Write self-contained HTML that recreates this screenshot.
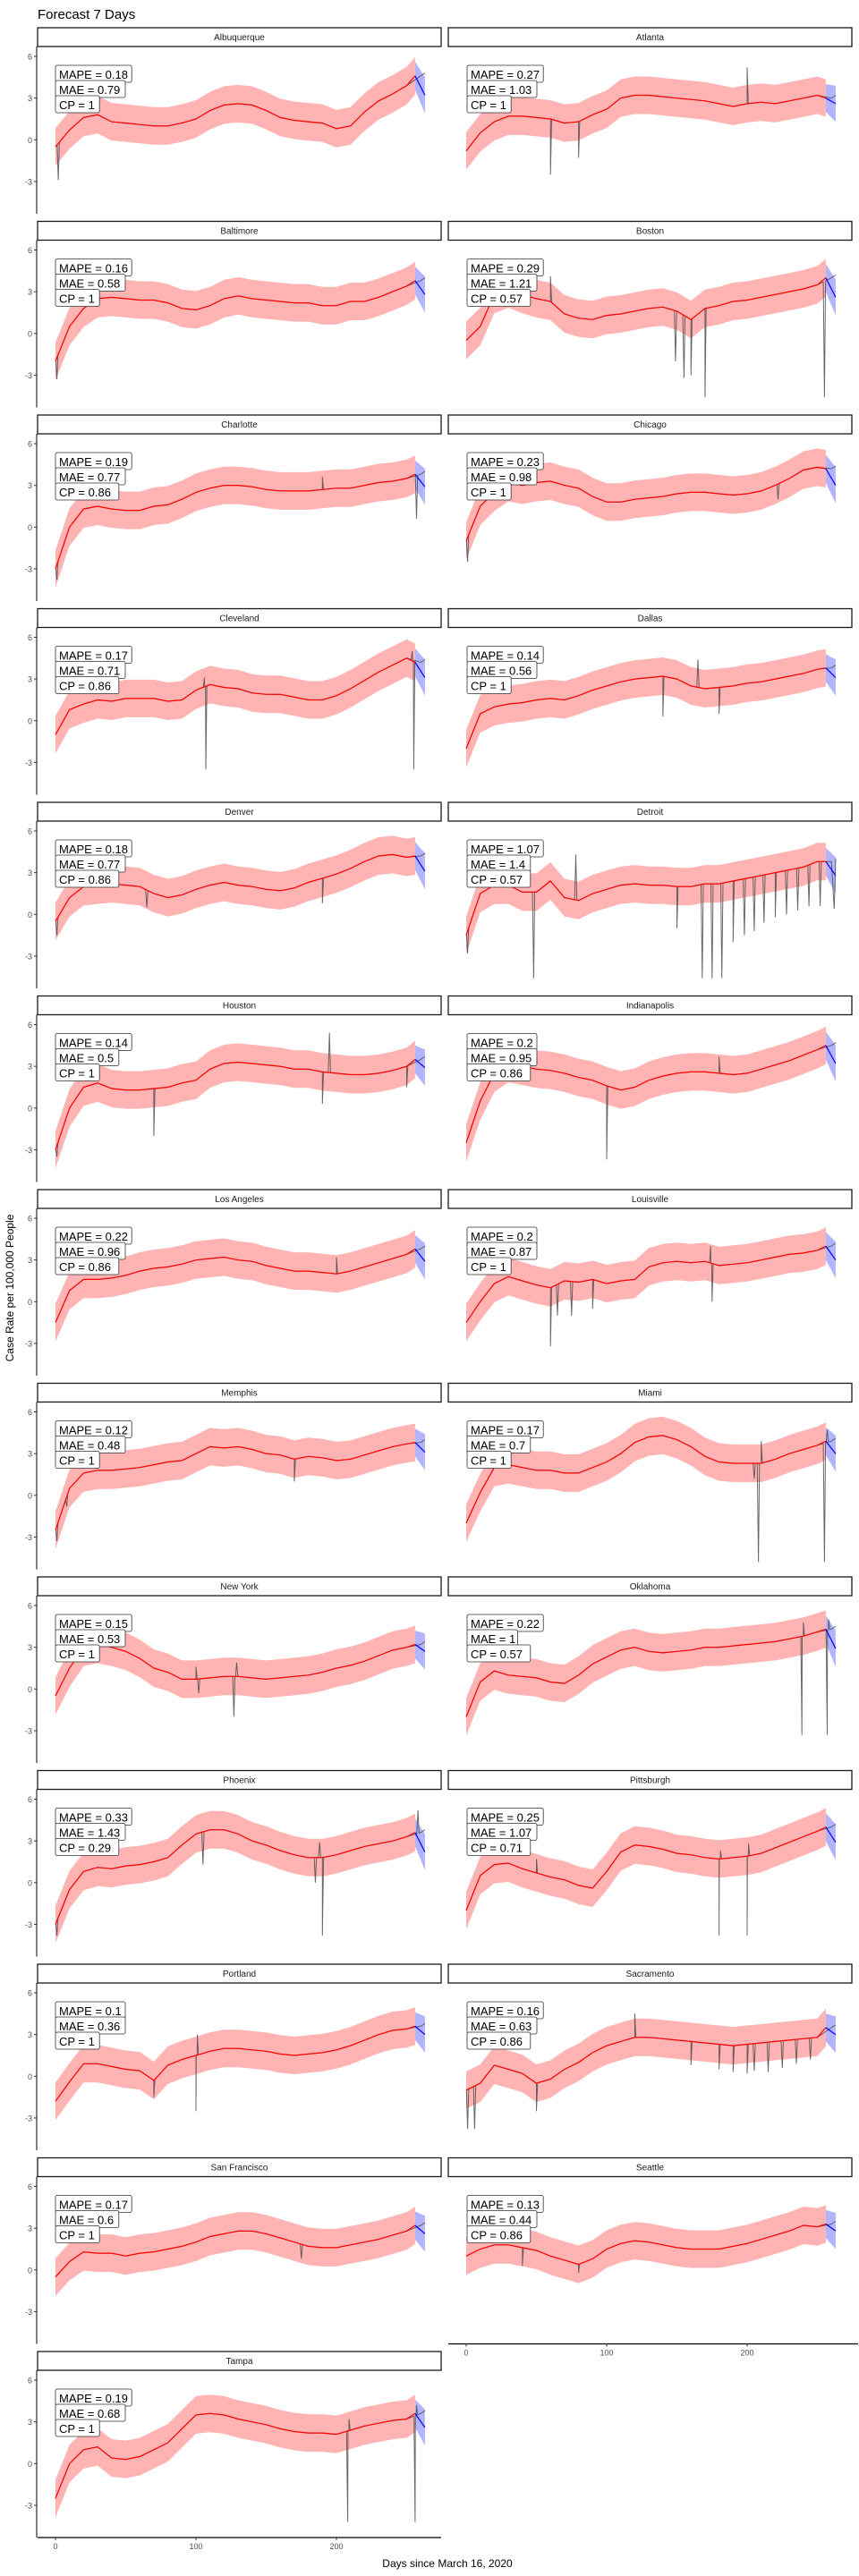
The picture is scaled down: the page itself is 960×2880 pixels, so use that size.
<!DOCTYPE html>
<html><head><meta charset="utf-8"><title>Forecast 7 Days</title>
<style>
html,body{margin:0;padding:0;background:#fff;}
svg{display:block;font-family:"Liberation Sans",Arial,sans-serif;}
</style></head>
<body>
<svg id="chart" width="960" height="2880" viewBox="0 0 960 2880" xmlns="http://www.w3.org/2000/svg">
<text x="42" y="21" font-size="15" fill="#000">Forecast 7 Days</text>
<text x="0" y="0" font-size="12" fill="#000" text-anchor="middle" transform="translate(15,1440) rotate(-90)">Case Rate per 100,000 People</text>
<text x="500" y="2870" font-size="12" fill="#000" text-anchor="middle">Days since March 16, 2020</text>
<g id="panels"></g>
</svg>
<script>
const cities = ["Albuquerque","Atlanta","Baltimore","Boston","Charlotte","Chicago","Cleveland","Dallas","Denver","Detroit","Houston","Indianapolis","Los Angeles","Louisville","Memphis","Miami","New York","Oklahoma","Phoenix","Pittsburgh","Portland","Sacramento","San Francisco","Seattle","Tampa"];
const mapeValues = ["0.18","0.27","0.16","0.29","0.19","0.23","0.17","0.14","0.18","1.07","0.14","0.2","0.22","0.2","0.12","0.17","0.15","0.22","0.33","0.25","0.1","0.16","0.17","0.13","0.19"];
const maeValues = ["0.79","1.03","0.58","1.21","0.77","0.98","0.71","0.56","0.77","1.4","0.5","0.95","0.96","0.87","0.48","0.7","0.53","1","1.43","1.07","0.36","0.63","0.6","0.44","0.68"];
const cpValues = ["1","1","1","0.57","0.86","1","0.86","1","0.86","0.57","1","0.86","0.86","1","1","1","1","0.57","0.29","0.71","1","0.86","1","0.86","1"];
// observed values every 10 days (day 0..260)
const sampleDays = [0,10,20,30,40,50,60,70,80,90,100,110,120,130,140,150,160,170,180,190,200,210,220,230,240,250,260];
const observedValues = [
[-0.5,0.7,1.6,1.8,1.3,1.2,1.1,1.0,1.0,1.2,1.5,2.1,2.5,2.6,2.5,2.1,1.6,1.4,1.3,1.2,0.8,1.0,2.0,2.8,3.3,3.9,4.6],
[-0.8,0.5,1.3,1.7,1.7,1.6,1.5,1.2,1.3,1.8,2.2,3.0,3.2,3.2,3.1,3.0,2.9,2.8,2.6,2.4,2.6,2.7,2.6,2.8,3.0,3.2,3.0],
[-2.0,0.5,1.8,2.5,2.6,2.5,2.4,2.4,2.2,1.8,1.7,2.0,2.5,2.7,2.5,2.4,2.3,2.2,2.2,2.0,2.0,2.3,2.3,2.6,3.0,3.4,3.8],
[-0.5,0.5,2.8,3.2,2.8,2.5,2.3,1.4,1.1,1.0,1.3,1.4,1.6,1.8,1.9,1.6,1.0,1.8,2.0,2.3,2.4,2.6,2.8,3.0,3.2,3.5,4.0],
[-3.0,0.0,1.3,1.5,1.3,1.2,1.2,1.5,1.6,2.0,2.5,2.8,3.0,3.0,2.9,2.7,2.6,2.6,2.6,2.7,2.8,2.8,3.0,3.2,3.3,3.5,3.8],
[-1.0,1.5,2.5,3.2,3.0,3.2,3.3,3.0,2.8,2.2,1.8,1.8,2.0,2.1,2.2,2.4,2.5,2.5,2.4,2.3,2.4,2.6,3.0,3.5,4.1,4.3,4.2],
[-1.0,0.8,1.2,1.5,1.4,1.6,1.6,1.6,1.4,1.5,2.2,2.6,2.4,2.3,2.0,1.9,1.9,1.7,1.5,1.5,1.8,2.3,2.9,3.5,4.0,4.5,4.2],
[-2.0,0.5,1.0,1.2,1.3,1.5,1.6,1.5,1.8,2.2,2.5,2.8,3.0,3.1,3.2,3.0,2.5,2.3,2.4,2.5,2.7,2.8,3.0,3.2,3.4,3.7,3.8],
[-0.5,1.2,2.0,2.1,2.2,2.1,2.0,1.5,1.2,1.4,1.8,2.1,2.3,2.1,2.0,1.8,1.7,1.9,2.3,2.6,2.9,3.3,3.8,4.2,4.3,4.1,4.2],
[-1.5,1.5,2.1,2.1,1.6,1.6,2.4,1.2,1.0,1.5,1.8,2.1,2.2,2.1,2.1,2.0,2.0,2.2,2.2,2.4,2.6,2.8,3.0,3.2,3.4,3.8,3.8],
[-3.0,0.0,1.5,1.8,1.4,1.3,1.3,1.4,1.5,1.8,2.0,2.8,3.2,3.3,3.2,3.1,3.0,2.8,2.8,2.6,2.5,2.4,2.4,2.5,2.7,3.0,3.5],
[-2.5,0.5,2.5,3.2,3.0,2.8,2.7,2.5,2.2,2.0,1.6,1.3,1.5,2.0,2.3,2.5,2.6,2.6,2.5,2.4,2.5,2.8,3.1,3.4,3.8,4.2,4.5],
[-1.5,0.8,1.6,1.6,1.7,1.9,2.2,2.4,2.5,2.7,3.0,3.1,3.2,3.0,2.9,2.6,2.4,2.2,2.2,2.1,2.0,2.2,2.5,2.8,3.1,3.4,3.8],
[-1.5,0.0,1.3,1.8,1.5,1.2,1.0,1.5,1.4,1.6,1.3,1.5,1.6,2.5,2.8,2.9,2.8,2.9,2.6,2.7,2.8,3.0,3.2,3.4,3.5,3.7,4.0],
[-2.5,0.5,1.6,1.8,1.8,1.9,2.0,2.2,2.4,2.5,3.0,3.5,3.4,3.5,3.3,3.0,2.9,2.6,2.8,2.7,2.5,2.6,2.9,3.2,3.5,3.7,3.8],
[-2.0,0.2,2.0,2.2,2.0,1.8,1.8,1.6,1.6,2.0,2.4,3.0,3.8,4.2,4.3,4.0,3.5,2.8,2.4,2.3,2.3,2.3,2.6,3.0,3.3,3.6,3.9],
[-0.5,1.5,3.0,3.2,3.0,2.7,2.2,1.5,1.2,0.7,0.7,0.8,0.9,0.9,0.8,0.7,0.8,0.9,1.0,1.2,1.5,1.7,2.0,2.4,2.8,3.0,3.2],
[-2.0,0.5,1.3,1.0,0.9,0.8,0.5,0.4,1.0,1.8,2.3,2.8,3.0,2.7,2.6,2.7,2.8,3.0,3.0,3.1,3.2,3.3,3.4,3.6,3.8,4.1,4.3],
[-3.0,-0.5,0.8,1.1,1.0,1.2,1.3,1.5,1.8,2.7,3.5,3.8,3.8,3.5,3.0,2.7,2.3,2.0,1.8,1.8,2.0,2.3,2.6,2.8,3.0,3.3,3.6],
[-2.0,0.5,1.3,1.4,1.0,0.7,0.4,0.2,-0.2,-0.4,0.8,2.2,2.7,2.6,2.4,2.1,2.0,1.8,1.7,1.8,1.9,2.1,2.5,2.9,3.3,3.7,4.0],
[-1.8,-0.4,0.9,0.9,0.7,0.5,0.4,-0.3,0.8,1.2,1.5,1.8,2.0,2.0,1.9,1.8,1.6,1.5,1.6,1.7,1.9,2.2,2.6,3.0,3.3,3.4,3.6],
[-1.0,-0.5,0.8,0.5,0.2,-0.5,-0.2,0.5,1.0,1.7,2.2,2.5,2.8,2.8,2.7,2.6,2.5,2.4,2.3,2.2,2.3,2.4,2.5,2.6,2.7,2.8,3.5],
[-0.5,0.6,1.3,1.2,1.2,1.0,1.2,1.3,1.5,1.7,2.0,2.4,2.6,2.8,2.8,2.6,2.3,2.0,1.7,1.6,1.6,1.8,2.0,2.2,2.5,2.8,3.2],
[1.0,1.5,1.8,1.8,1.6,1.4,1.0,0.7,0.4,0.8,1.5,1.9,2.1,2.0,1.8,1.6,1.5,1.5,1.5,1.7,1.9,2.2,2.5,2.8,3.2,3.1,3.3],
[-2.5,0.0,1.0,1.2,0.4,0.3,0.5,1.0,1.5,2.5,3.5,3.6,3.5,3.2,3.0,2.8,2.5,2.3,2.2,2.2,2.1,2.4,2.7,2.9,3.1,3.2,3.6]
];
// outlier spikes [day, value] in observed series
const spikeValues = [
[[2,-2.9]],
[[60,-2.5],[80,-1.3],[200,5.2]],
[[1,-3.3]],
[[60,4.1],[149,-2],[155,-3.2],[160,-3],[170,-4.6],[255,-4.6]],
[[1,-3.8],[190,3.6],[257,0.6]],
[[1,-2.5],[222,2]],
[[106,3.1],[107,-3.5],[254,5],[255,-3.5]],
[[140,0.3],[165,4.4],[180,0.5]],
[[1,-1.5],[65,0.5],[190,0.8]],
[[1,-2.8],[48,-4.6],[78,4.3],[150,-1],[168,-4.6],[175,-4.6],[182,-4.6],[190,-2],[198,-1.5],[205,-1.2],[212,-0.6],[220,-0.2],[228,0],[236,0.3],[244,0.6],[252,0.6],[262,0.4]],
[[1,-3.5],[70,-2],[190,0.3],[195,5.4],[250,1.5]],
[[100,-3.7],[180,3.7]],
[[200,3.2]],
[[60,-3.2],[65,-1],[75,-1],[90,-0.5],[174,4],[175,0]],
[[1,-3.3],[8,-0.8],[170,1]],
[[205,1.2],[208,-4.8],[210,3.9],[255,-4.8],[257,4.7]],
[[100,1.6],[102,-0.3],[127,-2],[129,1.9]],
[[239,-3.3],[240,4.8],[257,-3.3],[258,5]],
[[1,-3.8],[105,1.3],[185,0],[188,2.9],[190,-3.8],[258,5.2]],
[[50,1.7],[180,-3.8],[181,2.3],[200,-3.8],[201,2.8]],
[[70,-1.5],[100,-2.5],[101,3]],
[[1,-3.8],[6,-3.8],[50,-2.5],[120,4.5],[160,0.8],[180,0.5],[190,0.3],[200,0.2],[205,0.4],[215,0.3],[225,0.6],[235,0.9],[245,1.2]],
[[175,0.8]],
[[40,0.3],[80,-0.2]],
[[208,-4.2],[209,3.2],[256,-4.2],[257,4.2]]
];
const forecastEnd = [3.2,2.6,2.8,2.6,2.9,3.0,3.1,3.1,3.1,2.8,2.9,3.2,2.9,3.0,3.1,3.0,2.7,2.9,2.2,2.9,3.0,3.0,2.6,2.8,2.6];
const yTicks = [6,3,0,-3];
const xTicks = [0,100,200];

const NS = "http://www.w3.org/2000/svg";
const root = document.getElementById("panels");
const PERIOD = 216.5, FIT_END = 256, OBS_END = 263;
function mk(tag, attrs, parent){const e=document.createElementNS(NS,tag);for(const k in attrs)e.setAttribute(k,attrs[k]);parent.appendChild(e);return e;}
function panelGeom(i){const col=i%2,row=Math.floor(i/2);return {col,row,sx:col?501:42,sw:451,top:31+row*PERIOD,d0:col?521:62};}
function xS(g,d){return g.d0+d*1.57;}
function yS(g,v){return g.top+32+(6-v)*15.55;}
function pts(g,arr){return arr.map(p=>xS(g,p[0]).toFixed(1)+","+yS(g,p[1]).toFixed(1)).join(" ");}
function baseAt(vals,d){const k=Math.min(Math.floor(d/10),vals.length-2);const t=(d-k*10)/10;return vals[k]*(1-t)+vals[k+1]*t;}

cities.forEach((name,i)=>{
  const g=panelGeom(i);
  const grp=mk("g",{},root);
  
  
  const strip=mk("rect",{x:g.sx,y:g.top,width:g.sw,height:21,fill:"#fff",stroke:"#1a1a1a","stroke-width":1.3},grp);
  
  
  const st=mk("text",{x:g.sx+g.sw/2,y:g.top+14,"font-size":10,"text-anchor":"middle",fill:"#1a1a1a"},grp);
  st.textContent=name;
  
  
  const vals=observedValues[i];
  const base=sampleDays.map((d,k)=>[d,vals[k]]);
  const fit=base.filter(p=>p[0]<=250).concat([[FIT_END,vals[vals.length-1]]]);
  const upper=fit.map(p=>[p[0],p[1]+1.35]);
  const lower=fit.map(p=>[p[0],p[1]-1.35]).reverse();
  const band=mk("polygon",{points:pts(g,upper.concat(lower)),fill:"#ffb3b3",stroke:"none"},grp);
  
  
  const fs=vals[vals.length-1], fe=forecastEnd[i];
  const fpoly=[[FIT_END,fs+1],[OBS_END,fe+1.3],[OBS_END,fe-1.3],[FIT_END,fs-1]];
  const fb=mk("polygon",{points:pts(g,fpoly),fill:"#b3b3ff",stroke:"none"},grp);
  
  
  // observed with sharp spikes
  const obs=base.slice();
  spikeValues[i].forEach(s=>{
    obs.push(s);
    [s[0]-0.8,s[0]+0.8].forEach(d=>{if(d>0&&d<260)obs.push([d,baseAt(vals,d)]);});
  });
  obs.push([OBS_END,fs+0.2]);
  obs.sort((a,b)=>a[0]-b[0]);
  const ol=mk("polyline",{points:pts(g,obs),fill:"none",stroke:"#4d4d4d","stroke-width":1,"stroke-opacity":0.85},grp);
  
  
  const fl=mk("polyline",{points:pts(g,fit),fill:"none",stroke:"#ff0000","stroke-width":1.2},grp);
  
  
  const bl=mk("polyline",{points:pts(g,[[FIT_END,fs],[OBS_END,fe]]),fill:"none",stroke:"#0000ff","stroke-width":1.2},grp);
  
  
  if(g.col===0){
    const ax=mk("line",{x1:41,x2:41,y1:g.top+21,y2:g.top+208,stroke:"#000","stroke-width":1},grp);
    
    
    yTicks.forEach(t=>{
      mk("line",{x1:38,x2:41,y1:yS(g,t),y2:yS(g,t),stroke:"#333"},grp);
      const tl=mk("text",{x:36,y:yS(g,t)+3.5,"font-size":9,"text-anchor":"end",fill:"#4d4d4d"},grp);
      tl.textContent=String(t);
      
      
    });
  }
  if(i===cities.length-1||i===cities.length-2){
    const yb=g.top+208;
    const xa=mk("line",{x1:g.sx,x2:g.sx+g.sw+(g.col?7:0),y1:yb,y2:yb,stroke:"#000","stroke-width":1.2},grp);
    
    
    xTicks.forEach(t=>{
      mk("line",{x1:xS(g,t),x2:xS(g,t),y1:yb,y2:yb+3,stroke:"#333"},grp);
      const tl=mk("text",{x:xS(g,t),y:yb+13,"font-size":9,"text-anchor":"middle",fill:"#4d4d4d"},grp);
      tl.textContent=String(t);
      
      
    });
  }
  const labels=["MAPE = "+mapeValues[i],"MAE = "+maeValues[i],"CP = "+cpValues[i]];
  labels.forEach((s,k)=>{
    const bx=g.col?522:62, by=g.top+42+k*17;
    const w=s.length*7.2+6;
    const r=mk("rect",{x:bx,y:by,width:w,height:19,rx:2,fill:"#fff",stroke:"#333","stroke-width":0.8},grp);
    
    
    const tx=mk("text",{x:bx+4,y:by+15,"font-size":13,fill:"#000"},grp);
    tx.textContent=s;
    
    
  });
});
</script>
</body></html>
